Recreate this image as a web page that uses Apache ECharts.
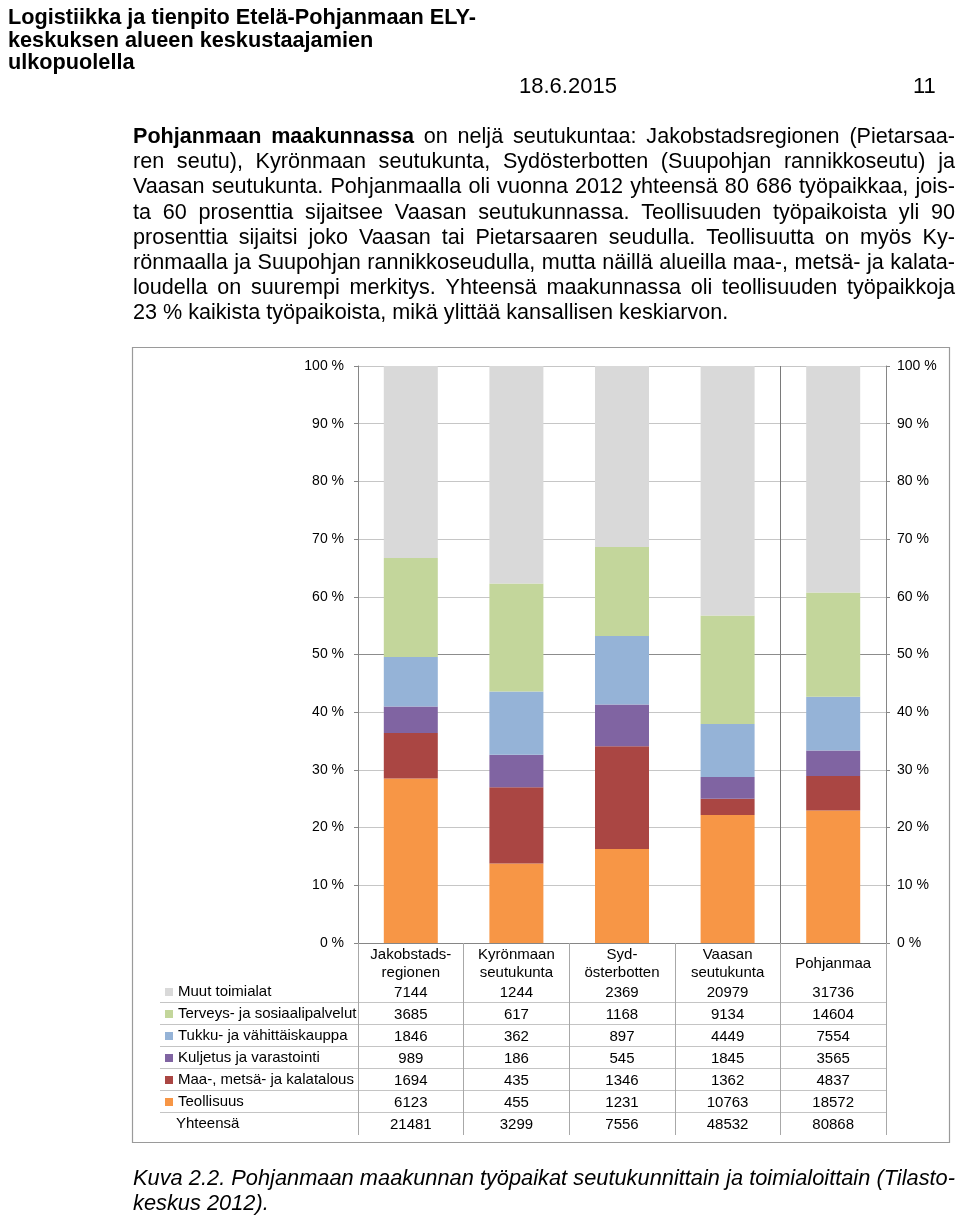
<!DOCTYPE html>
<html><head><meta charset="utf-8">
<script src="https://cdn.jsdelivr.net/npm/echarts@6/dist/echarts.min.js"></script>
<style>html,body{margin:0;padding:0;background:#fff}#c{width:960px;height:1219px}</style>
</head><body><div id="c"></div>
<script>
// ---------- DATA ----------
const categories = ['Jakobstads-\nregionen', 'Kyrönmaan\nseutukunta', 'Syd-\nösterbotten', 'Vaasan\nseutukunta', 'Pohjanmaa'];
const seriesNames = ['Teollisuus', 'Maa-, metsä- ja kalatalous', 'Kuljetus ja varastointi', 'Tukku- ja vähittäiskauppa', 'Terveys- ja sosiaalipalvelut', 'Muut toimialat'];
const teollisuus = [6123, 455, 1231, 10763, 18572];
const maaMetsa   = [1694, 435, 1346, 1362, 4837];
const kuljetus   = [989, 186, 545, 1845, 3565];
const tukku      = [1846, 362, 897, 4449, 7554];
const terveys    = [3685, 617, 1168, 9134, 14604];
const muut       = [7144, 1244, 2369, 20979, 31736];
const totals     = [21481, 3299, 7556, 48532, 80868];
const totalLabel = 'Yhteensä';
const yMin = 0, yMax = 100, yStep = 10;

const headerLines = ['Logistiikka ja tienpito Etelä-Pohjanmaan ELY-', 'keskuksen alueen keskustaajamien', 'ulkopuolella'];
const dateText = '18.6.2015';
const pageNo = '11';
const bodyLines = [
  '*Pohjanmaan *maakunnassa on neljä seutukuntaa: Jakobstadsregionen (Pietarsaa-',
  'ren seutu), Kyrönmaan seutukunta, Sydösterbotten (Suupohjan rannikkoseutu) ja',
  'Vaasan seutukunta. Pohjanmaalla oli vuonna 2012 yhteensä 80 686 työpaikkaa, jois-',
  'ta 60 prosenttia sijaitsee Vaasan seutukunnassa. Teollisuuden työpaikoista yli 90',
  'prosenttia sijaitsi joko Vaasan tai Pietarsaaren seudulla. Teollisuutta on myös Ky-',
  'rönmaalla ja Suupohjan rannikkoseudulla, mutta näillä alueilla maa-, metsä- ja kalata-',
  'loudella on suurempi merkitys. Yhteensä maakunnassa oli teollisuuden työpaikkoja',
  '23 % kaikista työpaikoista, mikä ylittää kansallisen keskiarvon.'
];
const captionLines = [
  'Kuva 2.2. Pohjanmaan maakunnan työpaikat seutukunnittain ja toimialoittain (Tilasto-',
  'keskus 2012).'
];

// ---------- STYLE ----------
const seriesValues = [teollisuus, maaMetsa, kuljetus, tukku, terveys, muut];
const colors = ['#f79646', '#aa4643', '#8064a2', '#95b3d7', '#c3d69b', '#d9d9d9'];
const FF = '"Liberation Sans", Arial, Helvetica, sans-serif';
const tableRows = [muut, terveys, tukku, kuljetus, maaMetsa, teollisuus, totals];

const chart = echarts.init(document.getElementById('c'), null, {renderer: 'canvas'});

const ctx = document.createElement('canvas').getContext('2d');
function measure(t, font) { ctx.font = font; return ctx.measureText(t).width; }

const graphics = [];
function addLine(text, x0, x1, y, size, style, justify) {
  const words = text.split(' ').map(w => w.startsWith('*') ? {t: w.slice(1), b: true} : {t: w, b: false});
  const fonts = words.map(w => `${style} ${w.b ? 'bold' : 'normal'} ${size}px ${FF}`);
  const widths = words.map((w, i) => measure(w.t, fonts[i]));
  const sum = widths.reduce((a, b) => a + b, 0);
  const sp = measure(' ', `${style} normal ${size}px ${FF}`);
  let gap = (justify && words.length > 1) ? (x1 - x0 - sum) / (words.length - 1) : sp;
  let x = x0;
  words.forEach((w, i) => {
    graphics.push({type: 'text', x: x, y: y, silent: true,
      style: {text: w.t, font: fonts[i], fill: '#000', textAlign: 'left', align: 'left', textVerticalAlign: 'middle', verticalAlign: 'middle'}});
    x += widths[i] + gap;
  });
}

// header
headerLines.forEach((t, i) => {
  graphics.push({type: 'text', x: 8, y: 18.5 + i * 22.5, silent: true,
    style: {text: t, font: `bold 21.7px ${FF}`, fill: '#000', textVerticalAlign: 'middle', verticalAlign: 'middle'}});
});
graphics.push({type: 'text', x: 519, y: 87, silent: true, style: {text: dateText, font: `22px ${FF}`, fill: '#000', textVerticalAlign: 'middle', verticalAlign: 'middle'}});
graphics.push({type: 'text', x: 913, y: 87, silent: true, style: {text: pageNo, font: `22px ${FF}`, fill: '#000', textVerticalAlign: 'middle', verticalAlign: 'middle'}});

bodyLines.forEach((t, i) => addLine(t, 133, 955, 137 + i * 25.2, 21.6, 'normal', i < bodyLines.length - 1));
captionLines.forEach((t, i) => addLine(t, 133, 955, 1179 + i * 25, 21.8, 'italic', i < captionLines.length - 1));

// outer box of the chart
graphics.push({type: 'rect', silent: true, z: -1, shape: {x: 132.5, y: 347.5, width: 817, height: 795},
  style: {fill: 'none', stroke: '#9a9a9a', lineWidth: 1.2}});

// table row separators
for (let r = 0; r < 6; r++) {
  const y = 1002.5 + r * 22;
  graphics.push({type: 'line', silent: true, shape: {x1: 160, y1: y, x2: 886, y2: y},
    style: {stroke: '#c4c4c4', lineWidth: 1}});
}
graphics.push({type: 'text', x: 176, y: 1124, silent: true,
  style: {text: totalLabel, font: `15px ${FF}`, fill: '#000', textVerticalAlign: 'middle', verticalAlign: 'middle'}});

const splitColors = [];
for (let v = yMin; v <= yMax; v += yStep) splitColors.push(v === 50 ? '#8c8c8c' : '#c6c6c6');

const yAxisCommon = {
  type: 'value', min: yMin, max: yMax, interval: yStep,
  axisLine: {show: true, lineStyle: {color: '#868686'}},
  axisTick: {show: true, length: 4, lineStyle: {color: '#868686'}},
  axisLabel: {formatter: '{value} %', color: '#000', fontSize: 14, fontFamily: FF}
};

const option = {
  animation: false,
  color: colors,
  textStyle: {fontFamily: FF},
  grid: {left: 358, right: 74, top: 366, bottom: 276, containLabel: false},
  legend: {
    orient: 'vertical', left: 165, top: 984, padding: 0, itemWidth: 8, itemHeight: 8, itemGap: 6,
    icon: 'rect', selectedMode: false,
    data: seriesNames.slice().reverse(),
    textStyle: {fontSize: 15, lineHeight: 16, color: '#000', fontFamily: FF}
  },
  xAxis: {
    type: 'category', data: categories,
    axisLine: {show: true, lineStyle: {color: '#868686'}},
    axisTick: {show: true, length: 192, lineStyle: {color: '#a8a8a8'}},
    splitLine: {show: false},
    axisLabel: {
      interval: 0, margin: 3, color: '#000', fontFamily: FF,
      formatter: function (value, idx) {
        const head = value.split('\n');
        let s = head.length > 1 ? head.map(t => '{h|' + t + '}').join('\n') : '{hs|' + head[0] + '}';
        tableRows.forEach(r => { s += '\n{v|' + r[idx] + '}'; });
        return s;
      },
      rich: {
        h: {fontSize: 15, lineHeight: 18, align: 'center', color: '#000', fontFamily: FF},
        hs: {fontSize: 15, lineHeight: 36, align: 'center', color: '#000', fontFamily: FF},
        v: {fontSize: 15, lineHeight: 22, align: 'center', color: '#000', fontFamily: FF}
      }
    }
  },
  yAxis: [
    Object.assign({}, yAxisCommon, {position: 'left',
      axisLabel: Object.assign({}, yAxisCommon.axisLabel, {margin: 14}),
      splitLine: {show: true, lineStyle: {color: splitColors, width: 1}}}),
    Object.assign({}, yAxisCommon, {position: 'right',
      axisLabel: Object.assign({}, yAxisCommon.axisLabel, {margin: 11}),
      splitLine: {show: false}})
  ],
  series: seriesNames.map((name, k) => ({
    name: name, type: 'bar', stack: 'total', barWidth: 54, yAxisIndex: 0,
    itemStyle: {color: colors[k]},
    data: seriesValues[k].map((v, i) => v / totals[i] * 100)
  })),
  graphic: {elements: graphics}
};
chart.setOption(option);

// extra vertical divider between the last two categories (as in the reference)
const xa = chart.convertToPixel({xAxisIndex: 0}, categories[3]);
const xb = chart.convertToPixel({xAxisIndex: 0}, categories[4]);
const yTop = chart.convertToPixel({yAxisIndex: 0}, yMax);
const yBot = chart.convertToPixel({yAxisIndex: 0}, yMin);
const xm = Math.round((xa + xb) / 2) + 0.5;
graphics.push({type: 'line', silent: true, z: 1, shape: {x1: xm, y1: yTop, x2: xm, y2: yBot},
  style: {stroke: '#7a7a7a', lineWidth: 1}});
chart.setOption({graphic: {elements: graphics}}, {replaceMerge: ['graphic']});
</script>
</body></html>
